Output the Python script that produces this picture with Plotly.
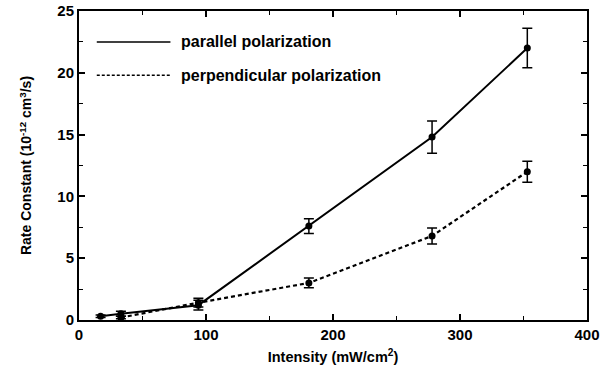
import plotly.graph_objects as go

# Data
par_x = [17, 33, 94, 181, 278, 353]
par_y = [0.3, 0.5, 1.2, 7.6, 14.8, 22.0]
par_err = [0.1, 0.2, 0.4, 0.6, 1.3, 1.6]

perp_x = [33, 94, 181, 278, 353]
perp_y = [0.2, 1.4, 3.0, 6.8, 12.0]
perp_err = [0.1, 0.35, 0.4, 0.65, 0.85]

x_ticks = [0, 100, 200, 300, 400]
y_ticks = [0, 5, 10, 15, 20, 25]

font = "Liberation Sans, Arial, sans-serif"

fig = go.Figure()
fig.add_trace(go.Scatter(
    x=par_x, y=par_y, mode="lines+markers",
    line=dict(color="black", width=2, dash="solid"),
    marker=dict(color="black", size=7),
    error_y=dict(type="data", array=par_err, color="black", thickness=1.5, width=5),
    name="parallel polarization", showlegend=False))
fig.add_trace(go.Scatter(
    x=perp_x, y=perp_y, mode="lines+markers",
    line=dict(color="black", width=2.2, dash="4px,3px"),
    marker=dict(color="black", size=7),
    error_y=dict(type="data", array=perp_err, color="black", thickness=1.5, width=5),
    name="perpendicular polarization", showlegend=False))

# legend drawn inside plot
legend_items = [("parallel polarization", "solid", 22.5), ("perpendicular polarization", "3px,2px", 19.8)]
for label, dash, yv in legend_items:
    fig.add_shape(type="line", xref="x", yref="y", x0=14, x1=72, y0=yv, y1=yv,
                  line=dict(color="black", width=1.5, dash=dash))
    fig.add_annotation(x=79, y=yv, xref="x", yref="y", text="<b>%s</b>" % label,
                       showarrow=False, xanchor="left", yanchor="middle",
                       font=dict(family=font, size=16, color="black"))

axis_common = dict(
    showline=True, linecolor="black", linewidth=2, mirror="ticks",
    ticks="inside", ticklen=6, tickwidth=1.5, tickcolor="black",
    showgrid=False, zeroline=False, automargin=False,
    tickfont=dict(family=font, size=15, color="black"),
)

fig.update_xaxes(range=[0, 400], tickvals=x_ticks, ticktext=["<b>%d</b>" % v for v in x_ticks],
                 minor=dict(dtick=50, ticks="inside", ticklen=4, tickcolor="black", tickwidth=1),
                 title=dict(text="<b>Intensity (mW/cm<sup>2</sup>)</b>", standoff=10,
                            font=dict(family=font, size=14.5, color="black")),
                 **axis_common)
fig.update_yaxes(range=[0, 25], tickvals=y_ticks, ticktext=["<b>%d</b>" % v for v in y_ticks],
                 minor=dict(dtick=2.5, ticks="inside", ticklen=4, tickcolor="black", tickwidth=1),
                 title=dict(text="<b>Rate Constant (10<sup>-12</sup> cm<sup>3</sup>/s)</b>", standoff=22,
                            font=dict(family=font, size=14, color="black")),
                 **axis_common)

fig.update_layout(
    width=611, height=371,
    margin=dict(l=79, r=24, t=11, b=51),
    plot_bgcolor="white", paper_bgcolor="white",
    showlegend=False,
)

fig.write_html("out.html", config={"displayModeBar": False},
               post_script="document.body.style.margin='0';document.body.style.overflow='hidden';")
